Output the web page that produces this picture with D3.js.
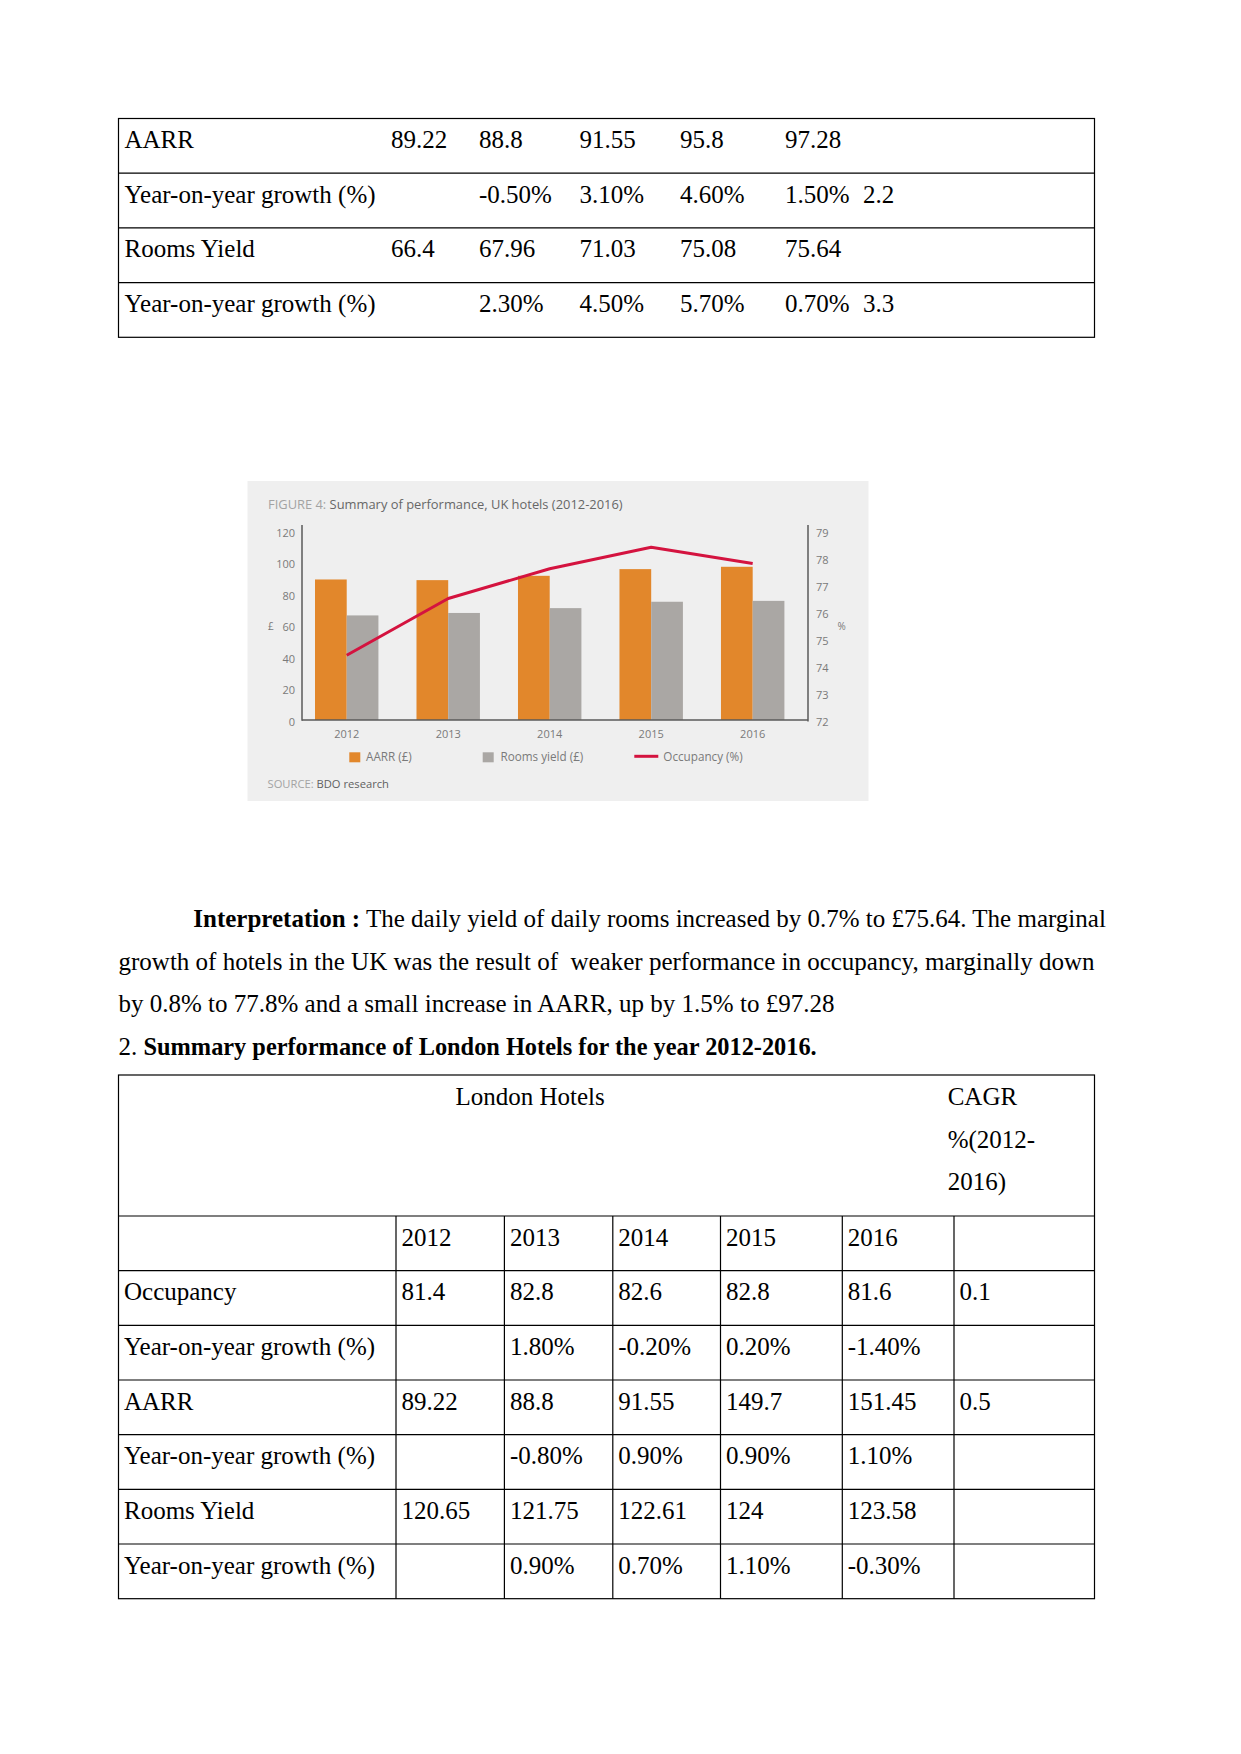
<!DOCTYPE html>
<html>
<head>
<meta charset="utf-8">
<script src="https://cdn.jsdelivr.net/npm/d3@7"></script>
<style>
  html, body { margin: 0; padding: 0; background: #fff; }
  svg { display: block; }
  .doc { font-family: "Liberation Serif", "Times New Roman", serif; font-size: 25px; fill: #000; white-space: pre; }
  .chart text { font-family: "Open Sans", "Noto Sans", sans-serif; }
</style>
</head>
<body>
<svg id="page" width="1241" height="1754"></svg>
<script>
// ---------- Chart data ----------
const years = ["2012", "2013", "2014", "2015", "2016"];
const aarr = [89.22, 88.8, 91.55, 95.8, 97.28];
const roomsYield = [66.4, 67.96, 71.03, 75.08, 75.64];
const occupancy = [74.4, 76.5, 77.6, 78.4, 77.8];
const leftTicks = [0, 20, 40, 60, 80, 100, 120];
const rightTicks = [72, 73, 74, 75, 76, 77, 78, 79];
const seriesNames = ["AARR (£)", "Rooms yield (£)", "Occupancy (%)"];
const chartTitleLead = "FIGURE 4: ";
const chartTitle = "Summary of performance, UK hotels (2012-2016)";
const sourceLead = "SOURCE: ";
const sourceText = "BDO research";

// ---------- Table data ----------
const ukRows = [
  ["AARR", "89.22", "88.8", "91.55", "95.8", "97.28", ""],
  ["Year-on-year growth (%)", "", "-0.50%", "3.10%", "4.60%", "1.50%", "2.2"],
  ["Rooms Yield", "66.4", "67.96", "71.03", "75.08", "75.64", ""],
  ["Year-on-year growth (%)", "", "2.30%", "4.50%", "5.70%", "0.70%", "3.3"]
];
const londonTitle = "London Hotels";
const cagrHeader = ["CAGR", "%(2012-", "2016)"];
const londonRows = [
  ["", "2012", "2013", "2014", "2015", "2016", ""],
  ["Occupancy", "81.4", "82.8", "82.6", "82.8", "81.6", "0.1"],
  ["Year-on-year growth (%)", "", "1.80%", "-0.20%", "0.20%", "-1.40%", ""],
  ["AARR", "89.22", "88.8", "91.55", "149.7", "151.45", "0.5"],
  ["Year-on-year growth (%)", "", "-0.80%", "0.90%", "0.90%", "1.10%", ""],
  ["Rooms Yield", "120.65", "121.75", "122.61", "124", "123.58", ""],
  ["Year-on-year growth (%)", "", "0.90%", "0.70%", "1.10%", "-0.30%", ""]
];
const interpLines = [
  [{t: "Interpretation :", b: true}, {t: " The daily yield of daily rooms increased by 0.7% to £75.64. The marginal", b: false}],
  [{t: "growth of hotels in the UK was the result of  weaker performance in occupancy, marginally down", b: false}],
  [{t: "by 0.8% to 77.8% and a small increase in AARR, up by 1.5% to £97.28", b: false}],
  [{t: "2. ", b: false}, {t: "Summary performance of London Hotels for the year 2012-2016.", b: true, s: 24.35}]
];

const svg = d3.select("#page");

// ---------- Top table (UK hotels continued) ----------
(function () {
  const L = 118.5, R = 1094.5, top = 118.5, rowH = 54.7;
  const textX = [124.5, 391, 479, 579.5, 680, 785, 863];
  const g = svg.append("g");
  const n = ukRows.length;
  g.append("rect").attr("x", L).attr("y", top).attr("width", R - L).attr("height", rowH * n)
    .attr("fill", "none").attr("stroke", "#000").attr("stroke-width", 1.2);
  for (let i = 1; i < n; i++) {
    g.append("line").attr("x1", L).attr("x2", R).attr("y1", top + rowH * i).attr("y2", top + rowH * i)
      .attr("stroke", "#000").attr("stroke-width", 1.2);
  }
  ukRows.forEach((row, i) => {
    row.forEach((cell, j) => {
      if (!cell) return;
      g.append("text").attr("class", "doc").attr("x", textX[j]).attr("y", top + rowH * i + 29.5).text(cell);
    });
  });
})();

// ---------- Chart ----------
(function () {
  const g = svg.append("g").attr("class", "chart");
  g.append("rect").attr("x", 247.5).attr("y", 481).attr("width", 621).attr("height", 320).attr("fill", "#efefef");

  // title
  const title = g.append("text").attr("x", 268).attr("y", 508.5).attr("font-size", 12.9);
  title.append("tspan").attr("fill", "#a3a3a3").text(chartTitleLead);
  title.append("tspan").attr("fill", "#676767").text(chartTitle);

  const axL = 302, axR = 808, base = 720, topY = 531;
  const x = d3.scaleBand().domain(years).range([294.7, 804.7]).paddingInner(0.375).paddingOuter(0.2);
  const sub = d3.scaleBand().domain(["a", "r"]).range([0, x.bandwidth()]);
  const yL = d3.scaleLinear().domain([0, 120]).range([base, topY]);
  const yR = d3.scaleLinear().domain([72, 79]).range([base, topY]);

  // bars
  g.selectAll("rect.aarr").data(years).join("rect").attr("class", "aarr")
    .attr("x", d => x(d) + sub("a")).attr("width", sub.bandwidth())
    .attr("y", (d, i) => yL(aarr[i])).attr("height", (d, i) => base - yL(aarr[i]))
    .attr("fill", "#e2872b");
  g.selectAll("rect.ry").data(years).join("rect").attr("class", "ry")
    .attr("x", d => x(d) + sub("r")).attr("width", sub.bandwidth())
    .attr("y", (d, i) => yL(roomsYield[i])).attr("height", (d, i) => base - yL(roomsYield[i]))
    .attr("fill", "#aaa7a4");

  // axes lines
  g.append("line").attr("x1", axL).attr("x2", axL).attr("y1", 525).attr("y2", base + 0.75).attr("stroke", "#5a5a5a").attr("stroke-width", 1.5);
  g.append("line").attr("x1", axR).attr("x2", axR).attr("y1", 525).attr("y2", base + 1.5).attr("stroke", "#5a5a5a").attr("stroke-width", 1.5);
  g.append("line").attr("x1", axL).attr("x2", axR).attr("y1", base).attr("y2", base).attr("stroke", "#5a5a5a").attr("stroke-width", 1.5);

  // left axis labels
  const left = g.append("g").attr("transform", `translate(${axL},0)`)
    .call(d3.axisLeft(yL).tickValues(leftTicks).tickFormat(d3.format("d")).tickSize(0).tickPadding(7));
  left.select(".domain").remove();
  left.selectAll("text").attr("font-family", "Open Sans, Noto Sans, sans-serif").attr("font-size", 11)
    .attr("fill", "#7a7a7a").attr("dy", "0.48em");
  // right axis labels
  const right = g.append("g").attr("transform", `translate(${axR},0)`)
    .call(d3.axisRight(yR).tickValues(rightTicks).tickFormat(d3.format("d")).tickSize(0).tickPadding(8));
  right.select(".domain").remove();
  right.selectAll("text").attr("font-family", "Open Sans, Noto Sans, sans-serif").attr("font-size", 11)
    .attr("fill", "#7a7a7a").attr("dy", "0.48em");
  // x axis labels
  const bottom = g.append("g").attr("transform", `translate(0,${base})`)
    .call(d3.axisBottom(x).tickSize(0).tickPadding(10));
  bottom.select(".domain").remove();
  bottom.selectAll("text").attr("font-family", "Open Sans, Noto Sans, sans-serif").attr("font-size", 11)
    .attr("fill", "#7a7a7a");

  g.append("text").attr("x", 268).attr("y", 626.7).attr("dy", "0.35em").attr("font-size", 10).attr("fill", "#7a7a7a").text("£");
  g.append("text").attr("x", 837.5).attr("y", 626).attr("dy", "0.35em").attr("font-size", 10).attr("fill", "#7a7a7a").text("%");

  // occupancy line
  const line = d3.line().x((d, i) => x(years[i]) + x.bandwidth() / 2).y(d => yR(d));
  g.append("path").datum(occupancy).attr("d", line).attr("fill", "none")
    .attr("stroke", "#d4133f").attr("stroke-width", 3).attr("stroke-linejoin", "round");

  // legend
  const ly = 757.3;
  g.append("rect").attr("x", 349.3).attr("y", ly - 5).attr("width", 11).attr("height", 10).attr("fill", "#e2872b");
  g.append("text").attr("x", 366).attr("y", ly).attr("dy", "0.35em").attr("font-size", 11.7).attr("fill", "#7a7a7a").text(seriesNames[0]);
  g.append("rect").attr("x", 482.7).attr("y", ly - 5).attr("width", 11).attr("height", 10).attr("fill", "#aaa7a4");
  g.append("text").attr("x", 500.5).attr("y", ly).attr("dy", "0.35em").attr("font-size", 11.7).attr("fill", "#7a7a7a").text(seriesNames[1]);
  g.append("line").attr("x1", 634.3).attr("x2", 658.3).attr("y1", ly - 1).attr("y2", ly - 1).attr("stroke", "#d4133f").attr("stroke-width", 3);
  g.append("text").attr("x", 663.3).attr("y", ly).attr("dy", "0.35em").attr("font-size", 11.7).attr("fill", "#7a7a7a").text(seriesNames[2]);

  // source
  const src = g.append("text").attr("x", 267.5).attr("y", 788).attr("font-size", 11.2);
  src.append("tspan").attr("fill", "#a3a3a3").text(sourceLead);
  src.append("tspan").attr("fill", "#5f5f5f").text(sourceText);
})();

// ---------- Interpretation paragraph ----------
(function () {
  const starts = [193.3, 118.5, 118.5, 118.5];
  const baselines = [926.5, 969.5, 1012, 1055];
  interpLines.forEach((parts, i) => {
    const t = svg.append("text").attr("class", "doc").attr("x", starts[i]).attr("y", baselines[i])
      .attr("xml:space", "preserve");
    parts.forEach(p => {
      const sp = t.append("tspan").attr("font-weight", p.b ? "bold" : "normal").text(p.t);
      if (p.s) sp.attr("font-size", p.s);
    });
  });
})();

// ---------- London table ----------
(function () {
  const L = 118.5, R = 1094.5, top = 1075, headH = 141, rowH = 54.67;
  const colX = [118.5, 396, 504.4, 612.8, 720.5, 842.3, 954, 1094.5];
  const g = svg.append("g");
  const n = londonRows.length;
  const bottomY = top + headH + rowH * n;
  g.append("rect").attr("x", L).attr("y", top).attr("width", R - L).attr("height", bottomY - top)
    .attr("fill", "none").attr("stroke", "#000").attr("stroke-width", 1.2);
  for (let i = 0; i < n; i++) {
    const yy = top + headH + rowH * i;
    g.append("line").attr("x1", L).attr("x2", R).attr("y1", yy).attr("y2", yy).attr("stroke", "#000").attr("stroke-width", 1.2);
  }
  colX.slice(1, -1).forEach(cx => {
    g.append("line").attr("x1", cx).attr("x2", cx).attr("y1", top + headH).attr("y2", bottomY)
      .attr("stroke", "#000").attr("stroke-width", 1.2);
  });
  g.append("text").attr("class", "doc").attr("x", 455.4).attr("y", top + 30).text(londonTitle);
  cagrHeader.forEach((s, i) => {
    g.append("text").attr("class", "doc").attr("x", 947.7).attr("y", top + 30 + 42.5 * i).text(s);
  });
  londonRows.forEach((row, i) => {
    row.forEach((cell, j) => {
      if (!cell) return;
      g.append("text").attr("class", "doc").attr("x", colX[j] + 5.5).attr("y", top + headH + rowH * i + 29.5).text(cell);
    });
  });
})();
</script>
</body>
</html>
